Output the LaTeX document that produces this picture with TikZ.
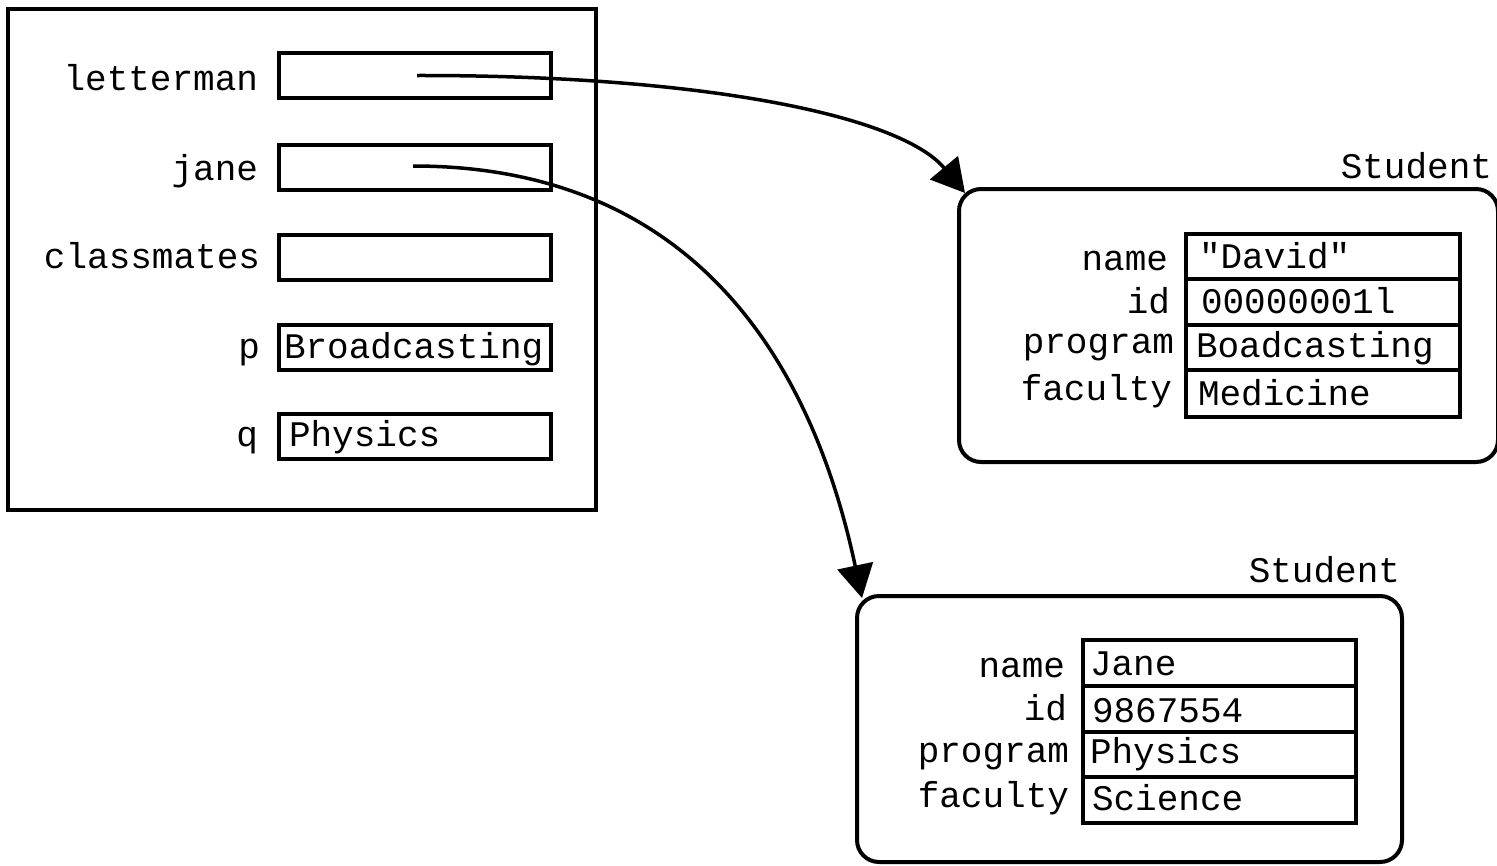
\documentclass[tikz,border=0pt]{standalone}
\usepackage{fontspec}
\setmainfont{Liberation Mono}[Ligatures=TeXOff]
\usetikzlibrary{arrows.meta}
\begin{document}
\begin{tikzpicture}[x=1pt,y=-1pt,
  every node/.style={inner sep=0pt, outer sep=0pt, font=\fontsize{36}{40}\selectfont},
  frame/.style={draw, line width=3.5pt, minimum width=588pt, minimum height=501pt},
  slot/.style={draw, line width=4pt, minimum width=272pt, minimum height=45pt},
  obj/.style={draw, line width=4pt, rounded corners=22pt},
  field/.style={draw, line width=4pt, minimum width=274pt},
  lbl/.style={anchor=base east},
  val/.style={anchor=base west},
  ptr/.style={line width=3.5pt, -{Triangle[length=33pt,width=36pt]}}
]
\useasboundingbox (0,0) rectangle (1497,865);

% ---- left frame
\node[frame] (frm) at (302,259.5) {};
\node[slot] (sl) at (415,75.5) {};
\node[slot] (sj) at (415,167) {};
\node[slot] (sc) at (415,257) {};
\node[slot] (sp) at (415,347.5) {};
\node[slot] (sq) at (415,436) {};
\node[lbl] (tl) at (258,90) {letterman};
\node[lbl] (tj) at (258,180) {jane};
\node[lbl] (tc) at (260,268) {classmates};
\node[lbl] (tp) at (260,358) {p};
\node[lbl] (tq) at (258,446) {q};
\node[val] (vp) at (284,358) {Broadcasting};
\node[val] (vq) at (289,446) {Physics};

% ---- Student 1
\node[obj, minimum width=539pt, minimum height=273pt] (s1) at (1228.5,325.5) {};
\node[anchor=base east] (s1t) at (1492,178) {Student};
\node[field, minimum height=45pt] (f1a) at (1323,256.5) {};
\node[field, minimum height=46pt] (f1b) at (1323,302) {};
\node[field, minimum height=45pt] (f1c) at (1323,347.5) {};
\node[field, minimum height=47pt] (f1d) at (1323,393.5) {};
\node[lbl] (l1a) at (1168,270) {name};
\node[lbl] (l1b) at (1170,313) {id};
\node[lbl] (l1c) at (1174,353) {program};
\node[lbl] (l1d) at (1172,400) {faculty};
\node[val] (v1a) at (1199,268) {"David"};
\node[val] (v1b) at (1201,313) {00000001l};
\node[val] (v1c) at (1196,357) {Boadcasting};
\node[val] (v1d) at (1198,405) {Medicine};

% ---- Student 2
\node[obj, minimum width=545pt, minimum height=266pt] (s2) at (1129.5,729) {};
\node[anchor=base east] (s2t) at (1400,582) {Student};
\node[field, minimum width=273pt, minimum height=46pt] (f2a) at (1219.5,663) {};
\node[field, minimum width=273pt, minimum height=46pt] (f2b) at (1219.5,709) {};
\node[field, minimum width=273pt, minimum height=45pt] (f2c) at (1219.5,754.5) {};
\node[field, minimum width=273pt, minimum height=46pt] (f2d) at (1219.5,800) {};
\node[lbl] (l2a) at (1065,677) {name};
\node[lbl] (l2b) at (1067,720) {id};
\node[lbl] (l2c) at (1069,762) {program};
\node[lbl] (l2d) at (1069,807) {faculty};
\node[val] (v2a) at (1090,675) {Jane};
\node[val] (v2b) at (1092,722) {9867554};
\node[val] (v2c) at (1090,763) {Physics};
\node[val] (v2d) at (1092,810) {Science};

% ---- pointers
\coordinate (pl) at ([shift={(2,0)}]sl.center);
\coordinate (pj) at ([shift={(-2,-1)}]sj.center);
\draw[ptr] (pl) .. controls (700,75) and (900,115) .. ([shift={(6,4)}]s1.north west);
\draw[ptr] (pj) .. controls (720,166) and (820,400) .. ([shift={(5,2)}]s2.north west);
\end{tikzpicture}
\end{document}
